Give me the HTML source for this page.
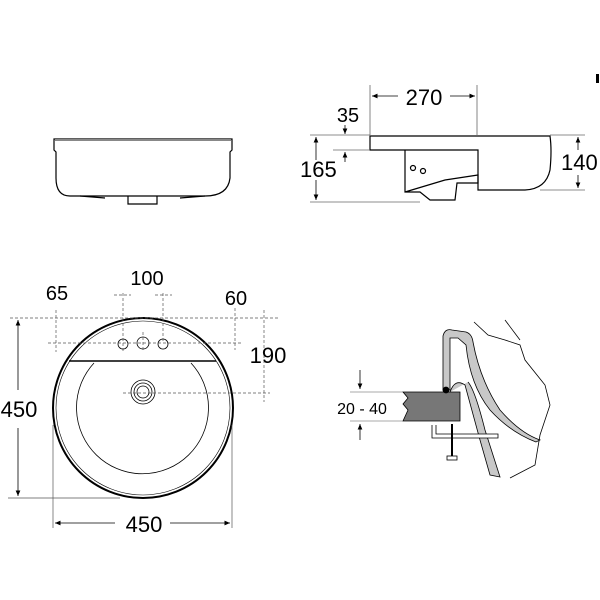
<!DOCTYPE html>
<html><head><style>body{margin:0;background:#fff}svg{display:block}text{font-family:"Liberation Sans",sans-serif;fill:#000}</style></head><body>
<svg width="600" height="600" viewBox="0 0 600 600" xmlns="http://www.w3.org/2000/svg">
<defs><marker id="a" markerWidth="8" markerHeight="8" refX="7" refY="4" orient="auto"><path d="M0,1 L7,4 L0,7z" fill="#000"/></marker></defs>
<!-- front view -->
<g fill="none" stroke="#000" stroke-width="1.2">
<path d="M54,139 L232,139 L232,150 L230,152 L230,178 Q228,196 205,196 L70,196 Q56,196 56,178 L56,152 L54,150 Z"/>
<line x1="55" y1="140" x2="231" y2="140" stroke="#888" stroke-width="2"/>
<path d="M128,196 L128,204 L157,204 L157,196"/>
<path d="M80,196 L105,198 M180,198 L205,196"/>
</g>
<!-- side view -->
<g fill="none" stroke="#000" stroke-width="1.2">
<path d="M370,136 L550,136 Q552,150 550,170 Q546,189 525,190 L478,190 L478,150 L370,150 Z"/>
<path d="M405,150 L405,192 L420,192 L430,200 L455,200 L457,183 L478,183 L478,175 L445,180 L405,192"/>
<circle cx="413" cy="168" r="2.5"/><circle cx="423" cy="171" r="2.5"/>
</g>
<g stroke="#666" stroke-width="0.8" fill="none">
<line x1="370" y1="85" x2="370" y2="136"/><line x1="477" y1="85" x2="477" y2="136"/>
<line x1="310" y1="135" x2="370" y2="135"/><line x1="333" y1="150" x2="370" y2="150"/>
<line x1="310" y1="202" x2="420" y2="202"/>
<line x1="550" y1="135" x2="585" y2="135"/><line x1="540" y1="190" x2="585" y2="190"/>
</g>
<g stroke="#000" stroke-width="0.8">
<line x1="398" y1="96" x2="372" y2="96" marker-end="url(#a)"/>
<line x1="450" y1="96" x2="475" y2="96" marker-end="url(#a)"/>
<line x1="316" y1="160" x2="316" y2="137" marker-end="url(#a)"/>
<line x1="316" y1="180" x2="316" y2="200" marker-end="url(#a)"/>
<line x1="578" y1="150" x2="578" y2="137" marker-end="url(#a)"/>
<line x1="578" y1="175" x2="578" y2="188" marker-end="url(#a)"/>
<line x1="345" y1="125" x2="345" y2="134" marker-end="url(#a)"/>
<line x1="345" y1="162" x2="345" y2="152" marker-end="url(#a)"/>
</g>
<text x="424" y="105" font-size="22" text-anchor="middle">270</text>
<text x="348" y="122" font-size="20" text-anchor="middle">35</text>
<text x="300" y="177" font-size="22">165</text>
<text x="561" y="170" font-size="22">140</text>
<!-- plan view -->
<g fill="none" stroke="#000">
<circle cx="143" cy="408" r="90" stroke-width="2"/>
<circle cx="143" cy="408" r="87" stroke-width="0.6"/>
<line x1="69" y1="361" x2="216" y2="361" stroke-width="1.5"/>
<path d="M94,363 A66,66 0 1 0 191,363" stroke-width="0.8"/>
<circle cx="143" cy="392" r="12" stroke-width="0.8"/><circle cx="143" cy="392" r="9" stroke-width="0.8"/><circle cx="143" cy="392" r="6" stroke-width="0.8"/>
<circle cx="123" cy="344" r="5" stroke-width="0.8"/><circle cx="143" cy="343" r="6" stroke-width="0.8"/><circle cx="163" cy="344" r="5" stroke-width="0.8"/>
</g>
<g stroke="#555" stroke-width="0.7" fill="none" stroke-dasharray="3,2">
<line x1="10" y1="318" x2="278" y2="318"/><line x1="48" y1="343" x2="243" y2="343"/>
<line x1="123" y1="293" x2="123" y2="353"/><line x1="163" y1="293" x2="163" y2="343"/>
<line x1="114" y1="295" x2="131" y2="295"/><line x1="155" y1="295" x2="172" y2="295"/>
<line x1="56" y1="310" x2="56" y2="352"/><line x1="235" y1="308" x2="235" y2="350"/>
<line x1="264" y1="310" x2="264" y2="402"/><line x1="123" y1="393" x2="270" y2="393"/>
<line x1="143" y1="332" x2="143" y2="352"/>
</g>
<g stroke="#555" stroke-width="0.7">
<line x1="8" y1="498" x2="120" y2="498"/><line x1="53" y1="425" x2="53" y2="528"/><line x1="232" y1="425" x2="232" y2="528"/>
</g>
<g stroke="#000" stroke-width="0.8">
<line x1="18" y1="390" x2="18" y2="320" marker-end="url(#a)"/><line x1="18" y1="428" x2="18" y2="496" marker-end="url(#a)"/>
<line x1="115" y1="523" x2="55" y2="523" marker-end="url(#a)"/><line x1="170" y1="523" x2="230" y2="523" marker-end="url(#a)"/>
</g>
<text x="19" y="417" font-size="22" text-anchor="middle">450</text>
<text x="144" y="532" font-size="22" text-anchor="middle">450</text>
<text x="57" y="300" font-size="20" text-anchor="middle">65</text>
<text x="147" y="285" font-size="20" text-anchor="middle">100</text>
<text x="236" y="305" font-size="20" text-anchor="middle">60</text>
<text x="268" y="363" font-size="22" text-anchor="middle">190</text>
<!-- detail -->
<g stroke="#000" stroke-width="0.8">
<path d="M443,390 L443,336 Q445,328 452,330 L466,332 Q472,334 473,342 Q480,380 500,410 Q520,433 540,440 L536,442 Q510,432 490,410 Q470,385 466,345 L458,338 L450,338 L450,390 Z" fill="#c8c8c8"/>
<path d="M450,392 Q455,378 465,385 L480,440 L490,475 L500,477 L485,430 Q475,390 468,382" fill="#c8c8c8"/>
<path d="M474,322 L488,335 L505,340 L520,345 L525,360 L545,385 L550,405 L540,435 L535,465 L510,478" fill="none"/>
<path d="M505,320 L520,340" fill="none"/>
<path d="M403,392 L460,392 L460,421 L403,421 L408,410 L403,404 L408,398 Z" fill="#777"/>
<circle cx="446" cy="390" r="3" fill="#000"/>
<path d="M432,425 L432,438 L498,438 L498,434 L436,434 L436,425" fill="#fff"/>
<line x1="452" y1="424" x2="452" y2="456" stroke-width="2"/>
<rect x="447" y="456" width="10" height="4" fill="#fff"/>
<line x1="360" y1="370" x2="360" y2="389" marker-end="url(#a)"/>
<line x1="360" y1="440" x2="360" y2="424" marker-end="url(#a)"/>
<line x1="350" y1="392" x2="403" y2="392" stroke="#555" stroke-width="0.6"/>
<line x1="350" y1="421" x2="403" y2="421" stroke="#555" stroke-width="0.6"/>
</g>
<text x="362" y="414" font-size="16" text-anchor="middle">20 - 40</text>
<rect x="596" y="74" width="3" height="9" fill="#000"/>
</svg>
</body></html>
